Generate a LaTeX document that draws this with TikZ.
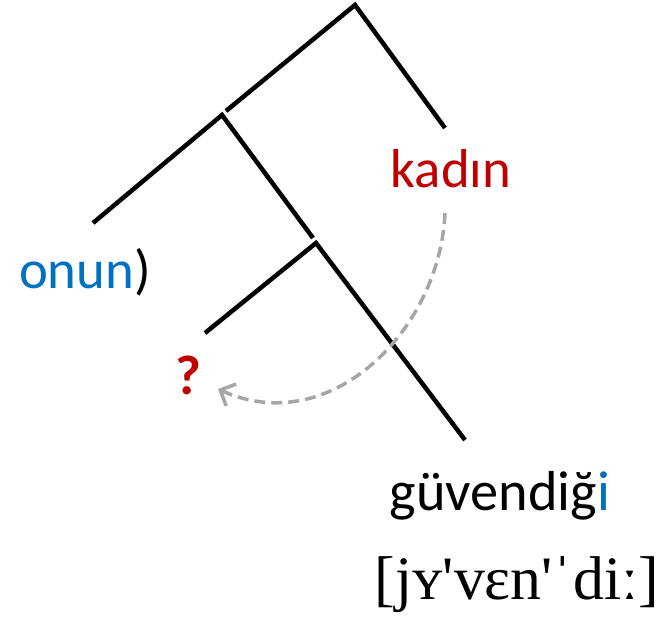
\documentclass[tikz,border=0pt]{standalone}
\usepackage{fontspec}
\setmainfont{Carlito}
\newfontfamily\ipafont{Liberation Serif}
\usetikzlibrary{arrows.meta}
\definecolor{tblue}{HTML}{0070C0}
\definecolor{tred}{HTML}{C00000}
\definecolor{tgray}{HTML}{A6A6A6}
\begin{document}
\begin{tikzpicture}[x=1bp,y=-1bp,
  branch/.style={line width=4.5bp, line cap=butt},
  lbl/.style={inner sep=0pt, anchor=base, font=\fontsize{55}{60}\selectfont},
  mv/.style={tgray, line width=3.5bp, dash pattern=on 11bp off 6bp, -{Straight Barb[length=12bp,width=24bp,line width=3.5bp]}}]
\useasboundingbox (0,0) rectangle (669,619);
% tree points
\coordinate (R) at (355,5);
\coordinate (Rr) at (445,128);
\coordinate (A) at (222,115);
\coordinate (Aend) at (226,111);
\coordinate (Al) at (93,223);
\coordinate (B) at (316,243);
\coordinate (Bend) at (313,238);
\coordinate (Bl) at (205,333);
\coordinate (Br) at (465,440);
\draw[branch] (Aend) -- (R) -- (Rr);
\draw[branch] (Al) -- (A) -- (Bend);
\draw[branch] (Bl) -- (B) -- (Br);
% labels
\node[lbl, text=tred] (kadin) at (451,188) {kadın};
\node[lbl] (onun) at (85,288) {\textcolor{tblue}{onun})};
\node[lbl, text=tred, font=\bfseries\fontsize{56}{60}\selectfont] (q) at (188,394) {?};
\node[lbl, font=\fontsize{56.5}{60}\selectfont] (guv) at (500,510) {güvendiğ\textcolor{tblue}{i}};
\node[lbl, font=\fontsize{62}{66}\ipafont] (ipa) at (517,599) {[jʏ'vɛn'ˈdiː]};
% movement arrow
\coordinate (mvs) at (445,213);
\coordinate (mve) at (218,389);
\draw[mv] (mvs) .. controls (440,330) and (330,440) .. (mve);
\end{tikzpicture}
\end{document}
